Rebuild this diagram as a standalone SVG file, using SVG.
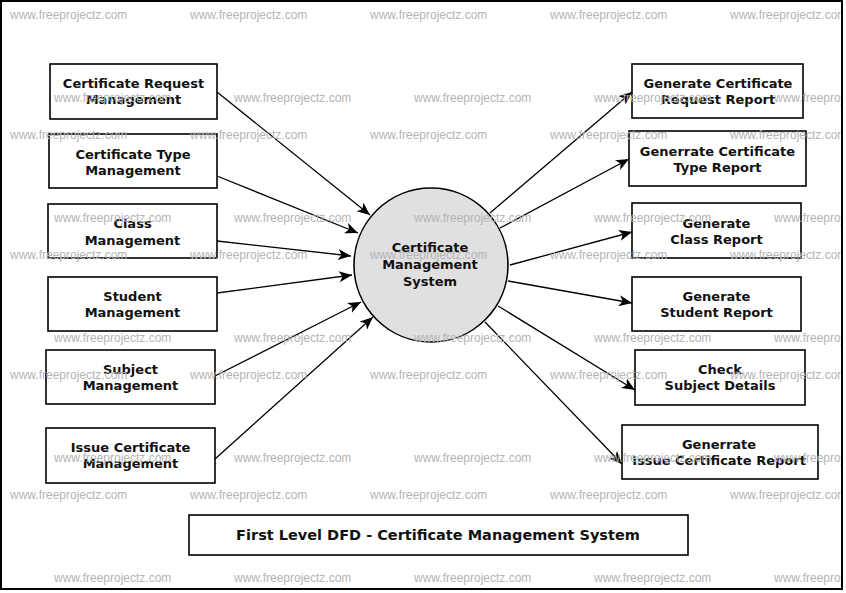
<svg xmlns="http://www.w3.org/2000/svg" width="846" height="593" viewBox="0 0 846 593">
<style>
.box{fill:#ffffff;stroke:#000000;stroke-width:1.6}
.t{font-family:"DejaVu Sans",sans-serif;font-weight:bold;font-size:13px;fill:#111111;text-anchor:middle}
.ttl{font-family:"DejaVu Sans",sans-serif;font-weight:bold;font-size:14.5px;fill:#111111;text-anchor:middle}
.c{fill:none;stroke:#000000;stroke-width:1.3;marker-end:url(#ah)}
.wm{font-family:"Liberation Sans",Arial,sans-serif;font-size:12px;fill:#b4b4b4}
</style>
<defs>
<marker id="ah" markerUnits="userSpaceOnUse" markerWidth="14" markerHeight="12" refX="13" refY="5.5" orient="auto">
<path d="M0,0 L13,5.5 L0,11 L3.5,5.5 z" fill="#000000"/>
</marker>
<clipPath id="inner"><rect x="2" y="2" width="839" height="586"/></clipPath>
</defs>
<rect x="0" y="0" width="846" height="593" fill="#ffffff"/>
<rect x="1" y="1" width="841" height="588" fill="none" stroke="#000000" stroke-width="2"/>

<g id="connectors">
<line class="c" x1="217" y1="92" x2="370" y2="215"/>
<line class="c" x1="217" y1="176" x2="358" y2="233"/>
<line class="c" x1="217" y1="241" x2="351" y2="256"/>
<line class="c" x1="217" y1="293" x2="352" y2="275"/>
<line class="c" x1="215" y1="376" x2="361" y2="302"/>
<line class="c" x1="215" y1="459" x2="373" y2="317"/>
<line class="c" x1="490" y1="213" x2="632" y2="92"/>
<line class="c" x1="500" y1="228" x2="629" y2="159"/>
<line class="c" x1="510" y1="265" x2="632" y2="232"/>
<line class="c" x1="508" y1="281" x2="632" y2="303"/>
<line class="c" x1="498" y1="306" x2="635" y2="390"/>
<line class="c" x1="485" y1="322" x2="622" y2="464"/>
</g>

<g id="process">
<circle cx="431" cy="265" r="77" fill="#e0e0e0" stroke="#000000" stroke-width="1.6"/>
<text class="t" x="430" y="252">Certificate</text>
<text class="t" x="430" y="269">Management</text>
<text class="t" x="430" y="286">System</text>
</g>

<g id="n1"><rect class="box" x="50" y="64" width="167" height="55"/>
<text class="t" x="133.5" y="88">Certificate Request</text><text class="t" x="133.5" y="104">Management</text></g>
<g id="n2"><rect class="box" x="49" y="134" width="168" height="54"/>
<text class="t" x="133" y="159">Certificate Type</text><text class="t" x="133" y="175">Management</text></g>
<g id="n3"><rect class="box" x="48" y="204" width="169" height="54"/>
<text class="t" x="132.5" y="228">Class</text><text class="t" x="132.5" y="245">Management</text></g>
<g id="n4"><rect class="box" x="48" y="277" width="169" height="54"/>
<text class="t" x="132.5" y="301">Student</text><text class="t" x="132.5" y="317">Management</text></g>
<g id="n5"><rect class="box" x="46" y="350" width="169" height="54"/>
<text class="t" x="130.5" y="374">Subject</text><text class="t" x="130.5" y="390">Management</text></g>
<g id="n6"><rect class="box" x="46" y="428" width="169" height="55"/>
<text class="t" x="130.5" y="452">Issue Certificate</text><text class="t" x="130.5" y="468">Management</text></g>

<g id="r1"><rect class="box" x="632" y="64" width="171" height="54"/>
<text class="t" x="718" y="88">Generate Certificate</text><text class="t" x="718" y="104">Request Report</text></g>
<g id="r2"><rect class="box" x="629" y="131" width="177" height="55"/>
<text class="t" x="717.5" y="156">Generrate Certificate</text><text class="t" x="717.5" y="172">Type Report</text></g>
<g id="r3"><rect class="box" x="632" y="203" width="169" height="55"/>
<text class="t" x="716.5" y="228">Generate</text><text class="t" x="716.5" y="244">Class Report</text></g>
<g id="r4"><rect class="box" x="632" y="277" width="169" height="54"/>
<text class="t" x="716.5" y="301">Generate</text><text class="t" x="716.5" y="317">Student Report</text></g>
<g id="r5"><rect class="box" x="635" y="350" width="170" height="55"/>
<text class="t" x="720" y="374">Check</text><text class="t" x="720" y="390">Subject Details</text></g>
<g id="r6"><rect class="box" x="622" y="425" width="196" height="54"/>
<text class="t" x="719" y="449">Generrate</text><text class="t" x="719" y="465">Issue Certificate Report</text></g>

<g id="title"><rect class="box" x="189" y="515" width="499" height="40"/>
<text class="ttl" x="438" y="540">First Level DFD - Certificate Management System</text></g>

<g id="watermark" clip-path="url(#inner)">
<text class="wm" x="10" y="19">www.freeprojectz.com</text><text class="wm" x="190" y="19">www.freeprojectz.com</text><text class="wm" x="370" y="19">www.freeprojectz.com</text><text class="wm" x="550" y="19">www.freeprojectz.com</text><text class="wm" x="730" y="19">www.freeprojectz.com</text>
<text class="wm" x="54" y="102">www.freeprojectz.com</text><text class="wm" x="234" y="102">www.freeprojectz.com</text><text class="wm" x="414" y="102">www.freeprojectz.com</text><text class="wm" x="594" y="102">www.freeprojectz.com</text><text class="wm" x="774" y="102">www.freeprojectz.com</text>
<text class="wm" x="10" y="139">www.freeprojectz.com</text><text class="wm" x="190" y="139">www.freeprojectz.com</text><text class="wm" x="370" y="139">www.freeprojectz.com</text><text class="wm" x="550" y="139">www.freeprojectz.com</text><text class="wm" x="730" y="139">www.freeprojectz.com</text>
<text class="wm" x="54" y="222">www.freeprojectz.com</text><text class="wm" x="234" y="222">www.freeprojectz.com</text><text class="wm" x="414" y="222">www.freeprojectz.com</text><text class="wm" x="594" y="222">www.freeprojectz.com</text><text class="wm" x="774" y="222">www.freeprojectz.com</text>
<text class="wm" x="10" y="259">www.freeprojectz.com</text><text class="wm" x="190" y="259">www.freeprojectz.com</text><text class="wm" x="370" y="259">www.freeprojectz.com</text><text class="wm" x="550" y="259">www.freeprojectz.com</text><text class="wm" x="730" y="259">www.freeprojectz.com</text>
<text class="wm" x="54" y="342">www.freeprojectz.com</text><text class="wm" x="234" y="342">www.freeprojectz.com</text><text class="wm" x="414" y="342">www.freeprojectz.com</text><text class="wm" x="594" y="342">www.freeprojectz.com</text><text class="wm" x="774" y="342">www.freeprojectz.com</text>
<text class="wm" x="10" y="379">www.freeprojectz.com</text><text class="wm" x="190" y="379">www.freeprojectz.com</text><text class="wm" x="370" y="379">www.freeprojectz.com</text><text class="wm" x="550" y="379">www.freeprojectz.com</text><text class="wm" x="730" y="379">www.freeprojectz.com</text>
<text class="wm" x="54" y="462">www.freeprojectz.com</text><text class="wm" x="234" y="462">www.freeprojectz.com</text><text class="wm" x="414" y="462">www.freeprojectz.com</text><text class="wm" x="594" y="462">www.freeprojectz.com</text><text class="wm" x="774" y="462">www.freeprojectz.com</text>
<text class="wm" x="10" y="499">www.freeprojectz.com</text><text class="wm" x="190" y="499">www.freeprojectz.com</text><text class="wm" x="370" y="499">www.freeprojectz.com</text><text class="wm" x="550" y="499">www.freeprojectz.com</text><text class="wm" x="730" y="499">www.freeprojectz.com</text>
<text class="wm" x="54" y="582">www.freeprojectz.com</text><text class="wm" x="234" y="582">www.freeprojectz.com</text><text class="wm" x="414" y="582">www.freeprojectz.com</text><text class="wm" x="594" y="582">www.freeprojectz.com</text><text class="wm" x="774" y="582">www.freeprojectz.com</text>
</g>
</svg>
